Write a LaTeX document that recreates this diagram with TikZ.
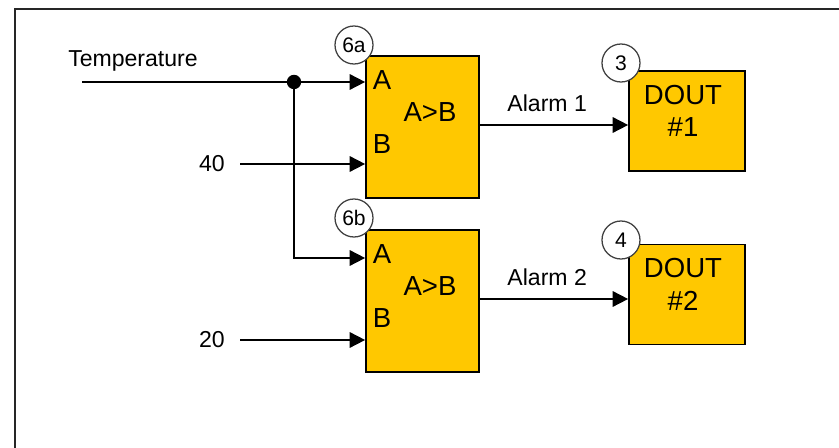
\documentclass[tikz,border=0pt]{standalone}
\usepackage{fontspec}
\setmainfont{Liberation Sans}
\usetikzlibrary{arrows.meta,positioning}
\definecolor{blockfill}{RGB}{255,200,0}
\tikzset{
  gate/.style={draw, line width=1.2pt, fill=blockfill, minimum width=2.825cm, minimum height=3.55cm, inner sep=0pt},
  dout/.style={draw, line width=1.2pt, fill=blockfill, minimum width=2.9cm, minimum height=2.5cm, inner sep=0pt},
  tag/.style={circle, draw=black!75, line width=0.9pt, fill=white, minimum size=0.95cm, inner sep=0pt, font=\fontsize{15}{17}\selectfont},
  port/.style={inner sep=0pt, font=\fontsize{19.6}{22.8}\selectfont},
  lbl/.style={inner sep=0pt, font=\fontsize{16.4}{19}\selectfont},
  sig/.style={line width=1.2pt, -{Triangle[length=11pt,width=11pt]}}
}
\begin{document}
\begin{tikzpicture}
    \useasboundingbox (0,0) rectangle (20.975,11.2);

    % Frame (open at the right and bottom)
    \draw[line width=1.5pt, black!85] (0.375,0) -- (0.375,10.975) -- (20.975,10.975);

    % Comparator blocks
    \node[gate] (g1) at (10.5625,8.025) {};
    \node[gate] (g2) at (10.5625,3.675) {};
    \node[port] (g1opa) at (9.55,9.2) {A};
    \node[port] (g1opb) at (9.55,7.6) {B};
    \node[port] (g1op) at (10.75,8.4) {A>B};
    \node[port] (g2opa) at (9.55,4.85) {A};
    \node[port] (g2opb) at (9.55,3.25) {B};
    \node[port] (g2op) at (10.75,4.05) {A>B};

    % Digital outputs
    \node[dout] (d1) at (17.175,8.175) {};
    \node[dout] (d2) at (17.175,3.8375) {};
    \node[port, align=center] (d1txt) at (17.075,8.425) {DOUT\\\#1};
    \node[port, align=center] (d2txt) at (17.075,4.09) {DOUT\\\#2};

    % Input ports
    \coordinate (g1a) at ([yshift=1.125cm]g1.west);
    \coordinate (g1b) at ([yshift=-0.925cm]g1.west);
    \coordinate (g2a) at ([yshift=1.075cm]g2.west);
    \coordinate (g2b) at ([yshift=-0.975cm]g2.west);

    % Inputs
    \node[lbl] (temp) at (3.325,9.675) {Temperature};
    \node[lbl] (forty) at (5.3,7.1) {40};
    \node[lbl] (twenty) at (5.3,2.7) {20};
    \coordinate (tstart) at (2.05,9.15);
    \coordinate (tjoin) at (7.35,9.15);

    \draw[sig] (tstart) -- (g1a);
    \draw[sig] (tjoin) |- (g2a);
    \fill (tjoin) circle (0.18);
    \draw[sig] ([xshift=0.375cm]forty.east) -- (g1b);
    \draw[sig] ([xshift=0.375cm]twenty.east) -- (g2b);

    % Alarms
    \draw[sig] ([yshift=0.05cm]g1.east) -- ([yshift=0.05cm]g1.east -| d1.west) node[lbl, midway, above=9pt, xshift=-0.17cm] (al1) {Alarm 1};
    \draw[sig] ([yshift=0.05cm]g2.east) -- ([yshift=0.05cm]g2.east -| d2.west) node[lbl, midway, above=9pt, xshift=-0.17cm] (al2) {Alarm 2};

    % Block numbers
    \node[tag] (t6a) at (8.85,10.075) {6a};
    \node[tag] (t6b) at (8.85,5.75) {6b};
    \node[tag] (t3) at (15.525,9.625) {3};
    \node[tag] (t4) at (15.525,5.2) {4};
\end{tikzpicture}
\end{document}
